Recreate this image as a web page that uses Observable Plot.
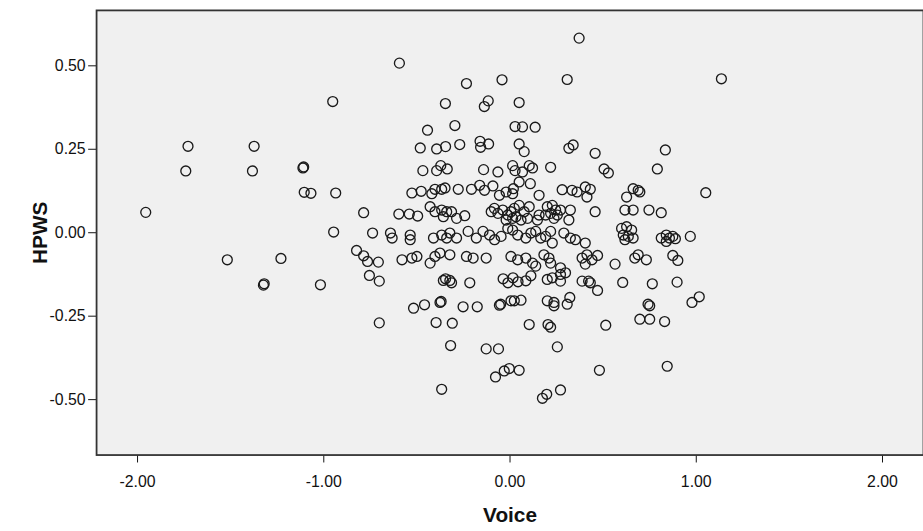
<!DOCTYPE html>
<html>
<head>
<meta charset="utf-8">
<script src="https://cdn.jsdelivr.net/npm/d3@7"></script>
<script src="https://cdn.jsdelivr.net/npm/@observablehq/plot@0.6"></script>
<style>
  html, body { margin: 0; padding: 0; background: #ffffff; overflow: hidden; }
  #chart { width: 923px; height: 531px; overflow: hidden; }
</style>
</head>
<body>
<div id="chart"></div>
<script>
const voice = [
  -1.956,-1.729,-1.741,-1.374,-1.383,-1.112,-1.108,-1.105,-1.069,-0.936,
  -0.952,-0.786,-0.947,-0.738,-1.518,-1.230,-1.324,-1.320,-1.018,-0.824,
  -0.786,-0.765,-0.707,-0.755,-0.702,-0.702,-0.594,-0.234,-0.043,-0.347,
  -0.117,-0.138,0.049,-0.443,-0.296,0.027,0.067,0.135,-0.482,-0.394,
  -0.346,-0.270,-0.161,-0.158,-0.115,0.049,0.076,-0.468,-0.394,-0.372,
  -0.337,-0.142,-0.065,0.014,0.027,0.067,0.371,0.307,1.135,0.316,
  0.339,0.457,0.834,0.791,0.218,0.103,0.121,0.505,0.528,-0.527,
  -0.477,-0.420,-0.403,-0.367,-0.349,-0.278,-0.207,-0.163,-0.137,-0.092,
  -0.057,-0.021,0.018,0.049,0.109,0.156,0.280,0.333,0.360,0.404,
  0.431,0.413,0.626,0.661,0.688,0.697,1.051,0.014,-0.597,-0.541,
  -0.496,-0.429,-0.403,-0.367,-0.340,-0.358,-0.314,-0.287,-0.243,-0.101,
  -0.084,-0.065,-0.039,-0.012,0.005,0.014,-0.021,0.023,0.049,0.076,
  0.032,0.094,0.059,0.103,0.200,0.227,0.245,0.218,0.254,0.191,
  0.236,0.271,0.324,0.316,0.156,0.147,0.457,0.617,0.661,0.746,
  0.812,-0.642,-0.633,-0.536,-0.536,-0.411,-0.367,-0.340,-0.323,-0.287,
  -0.225,-0.181,-0.145,-0.110,-0.083,-0.048,-0.012,0.014,0.041,0.085,
  0.112,0.138,0.165,0.191,0.218,0.227,0.289,0.324,0.351,0.404,
  0.599,0.626,0.653,0.608,0.635,0.661,0.617,0.812,0.839,0.856,
  0.874,0.839,0.888,0.968,-0.580,-0.527,-0.500,-0.403,-0.429,-0.376,
  -0.323,-0.234,-0.198,-0.128,0.005,0.041,0.085,0.121,0.138,0.182,
  0.209,0.218,0.271,0.387,0.413,0.440,0.470,0.404,0.564,0.670,
  0.688,0.732,0.874,0.901,-0.358,-0.346,-0.323,-0.314,-0.216,-0.037,
  -0.011,0.016,0.043,0.085,0.112,0.200,0.227,0.271,0.298,0.271,
  0.387,0.422,0.431,0.470,0.605,0.764,0.897,-0.518,-0.459,-0.376,
  -0.370,-0.252,-0.176,-0.057,-0.050,0.005,0.023,0.059,0.200,0.236,
  0.236,0.307,0.321,0.697,0.750,0.741,0.750,0.830,0.977,1.016,
  -0.397,-0.310,0.103,0.204,0.218,0.514,-0.319,-0.128,-0.062,0.254,
  -0.078,-0.031,-0.004,0.049,0.480,0.844,0.174,0.197,0.271,-0.367
];
const hpws = [
  0.061,0.259,0.185,0.259,0.185,0.194,0.197,0.121,0.118,0.119,
  0.393,0.060,0.002,-0.001,-0.081,-0.077,-0.157,-0.153,-0.156,-0.053,
  -0.069,-0.086,-0.088,-0.128,-0.145,-0.270,0.508,0.447,0.458,0.387,
  0.395,0.378,0.390,0.307,0.321,0.318,0.317,0.316,0.254,0.251,
  0.258,0.264,0.274,0.256,0.266,0.266,0.243,0.186,0.186,0.201,
  0.191,0.189,0.182,0.201,0.186,0.182,0.583,0.459,0.461,0.253,
  0.263,0.238,0.248,0.191,0.196,0.201,0.194,0.191,0.179,0.119,
  0.124,0.117,0.130,0.130,0.134,0.130,0.130,0.142,0.127,0.140,
  0.112,0.122,0.132,0.152,0.147,0.112,0.129,0.127,0.122,0.137,
  0.130,0.107,0.107,0.132,0.127,0.122,0.120,0.117,0.056,0.056,
  0.050,0.078,0.063,0.068,0.063,0.048,0.063,0.043,0.051,0.063,
  0.073,0.058,0.068,0.053,0.063,0.043,0.038,0.073,0.082,0.063,
  0.048,0.043,0.038,0.078,0.078,0.082,0.068,0.058,0.053,0.053,
  0.043,0.068,0.068,0.038,0.053,0.038,0.063,0.068,0.068,0.068,
  0.060,-0.001,-0.016,-0.007,-0.021,-0.016,-0.007,-0.016,-0.001,-0.016,
  0.004,-0.016,0.004,-0.007,-0.021,-0.011,0.013,0.008,-0.007,-0.016,
  -0.001,0.004,-0.016,-0.011,0.004,-0.031,-0.001,-0.016,-0.021,-0.031,
  0.013,0.018,0.008,-0.007,-0.011,-0.016,-0.021,-0.016,-0.007,-0.016,
  -0.011,-0.026,-0.018,-0.011,-0.081,-0.076,-0.071,-0.071,-0.091,-0.061,
  -0.066,-0.071,-0.076,-0.076,-0.071,-0.081,-0.076,-0.091,-0.100,-0.066,
  -0.076,-0.091,-0.105,-0.076,-0.066,-0.081,-0.068,-0.094,-0.094,-0.076,
  -0.066,-0.081,-0.068,-0.083,-0.143,-0.138,-0.143,-0.150,-0.150,-0.138,
  -0.150,-0.135,-0.147,-0.144,-0.129,-0.140,-0.135,-0.125,-0.120,-0.145,
  -0.145,-0.145,-0.150,-0.173,-0.149,-0.153,-0.148,-0.226,-0.216,-0.209,
  -0.206,-0.222,-0.222,-0.217,-0.214,-0.204,-0.204,-0.202,-0.204,-0.209,
  -0.219,-0.214,-0.194,-0.259,-0.259,-0.214,-0.219,-0.266,-0.209,-0.192,
  -0.269,-0.271,-0.275,-0.275,-0.283,-0.277,-0.338,-0.348,-0.348,-0.342,
  -0.432,-0.414,-0.407,-0.412,-0.412,-0.400,-0.496,-0.484,-0.471,-0.469
];
const xTicks = [-2, -1, 0, 1, 2];
const yTicks = [-0.5, -0.25, 0, 0.25, 0.5];
const xTitle = "Voice";
const yTitle = "HPWS";

const data = voice.map((v, i) => ({voice: v, hpws: hpws[i]}));
const fmt = d => d.toFixed(2);

const chart = Plot.plot({
  width: 932,
  height: 531,
  marginLeft: 97,
  marginRight: 0,
  marginTop: 10,
  marginBottom: 72,
  style: {
    fontFamily: "'Liberation Sans', Arial, sans-serif",
    fontSize: "16px",
    color: "#111",
    background: "#ffffff",
    overflow: "visible"
  },
  x: {
    domain: [-2.22, 2.22],
    ticks: xTicks,
    tickFormat: fmt,
    tickSize: 8,
    tickPadding: 13,
    label: null
  },
  y: {
    domain: [-0.666, 0.666],
    ticks: yTicks,
    tickFormat: fmt,
    tickSize: 8,
    tickPadding: 3,
    label: null
  },
  marks: [
    Plot.frame({fill: "#f0f0f0"}),
    Plot.dot(data, {x: "voice", y: "hpws", r: 5, fill: "none", stroke: "#1a1a1a", strokeWidth: 1.35}),
    Plot.frame({stroke: "#333", strokeWidth: 1.8}),
    Plot.text([xTitle], {frameAnchor: "bottom", dy: 61, textAnchor: "middle", lineAnchor: "middle", fontWeight: "bold", fontSize: 21, fill: "#111"}),
    Plot.text([yTitle], {frameAnchor: "left", dx: -57, rotate: -90, textAnchor: "middle", lineAnchor: "middle", fontWeight: "bold", fontSize: 21, fill: "#111"})
  ]
});
document.getElementById("chart").appendChild(chart);
</script>
</body>
</html>
